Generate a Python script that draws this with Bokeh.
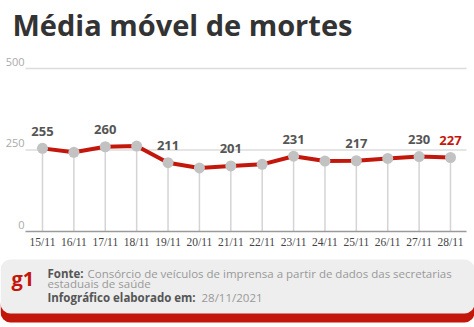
from bokeh.plotting import figure
from bokeh.models import Range1d, Label, BoxAnnotation, ColumnDataSource
from bokeh.core.properties import value
from bokeh.embed import file_html
from bokeh.resources import INLINE

# ---- data ----
dates = ["15/11", "16/11", "17/11", "18/11", "19/11", "20/11", "21/11",
         "22/11", "23/11", "24/11", "25/11", "26/11", "27/11", "28/11"]
deaths = [255, 243, 260, 262, 211, 195, 201, 206, 231, 216, 217, 224, 230, 227]
labeled_idx = [0, 2, 4, 6, 8, 10, 12]
last_idx = 13
y_ticks = [0, 250, 500]
y_tick_labels = ["0", "250", "500"]

title_text = "Média móvel de mortes"
source_bold = "Fonte:"
source_rest = "Consórcio de veículos de imprensa a partir de dados das secretarias"
source_line2 = "estaduais de saúde"
made_bold = "Infográfico elaborado em:"
made_date = "28/11/2021"

# ---- layout ----
W, H = 474, 327
X0_PX, X13_PX = 42.0, 450.0          # pixel x of first / last point
Y0_PX, Y500_PX = 231.0, 68.0         # pixel y of 0 and 500
sx = (X13_PX - X0_PX) / 13.0
sy = (Y0_PX - Y500_PX) / 500.0
x_start = -X0_PX / sx
x_end = 13 + (W - X13_PX) / sx
y_end = 500 + Y500_PX / sy
y_start = -(H - Y0_PX) / sy

def px_x(px):
    return x_start + px / sx

def px_y(py):
    return y_end - py / sy

RED = "#c4170c"
FONT = "Open Sans"

p = figure(width=W, height=H, min_border=0, min_border_left=0, min_border_right=0,
           min_border_top=0, min_border_bottom=0,
           x_axis_type=None, y_axis_type=None, toolbar_location=None,
           output_backend="svg", outline_line_color=None,
           x_range=Range1d(x_start, x_end), y_range=Range1d(y_start, y_end))
p.background_fill_color = "white"
p.border_fill_color = "white"

xs = list(range(len(dates)))

# horizontal grid lines
p.segment(x0=[px_x(25)] * 2, x1=[px_x(466)] * 2, y0=y_ticks[1:], y1=y_ticks[1:],
          line_color="#dcdcdc", line_width=1.5)
# vertical drop lines
p.segment(x0=xs, x1=xs, y0=[0] * len(xs), y1=deaths, line_color="#d4d4d4", line_width=1.5)
# baseline
p.segment(x0=[px_x(25)], x1=[px_x(466)], y0=[0], y1=[0], line_color="#9a9a9a", line_width=1.5)

# y tick labels
p.text(x=[px_x(24)] * 3, y=y_ticks, text=y_tick_labels, text_align="right",
       text_baseline="middle", y_offset=-7, text_font=value(FONT),
       text_font_size="11px", text_color="#aaaaaa")

# x tick labels
p.text(x=xs, y=[0] * len(xs), text=dates, text_align="center", text_baseline="middle",
       y_offset=10, text_font=value("Liberation Sans Narrow"), text_font_size="11.5px",
       text_color="#444444")

# line & markers
p.line(xs, deaths, line_color=RED, line_width=4)
p.scatter(xs, deaths, size=11, fill_color="#c2c2c2", line_color=None)

# value labels
src = ColumnDataSource(dict(x=labeled_idx, y=[deaths[i] for i in labeled_idx],
                            t=[str(deaths[i]) for i in labeled_idx]))
p.text(x="x", y="y", text="t", source=src, text_align="center", text_baseline="middle",
       y_offset=-17, text_font=value(FONT), text_font_size="13px",
       text_font_style="bold", text_color="#555555")
p.text(x=[last_idx], y=[deaths[last_idx]], text=[str(deaths[last_idx])],
       text_align="center", text_baseline="middle", y_offset=-17,
       text_font=value(FONT), text_font_size="13px", text_font_style="bold",
       text_color=RED)

# title
p.add_layout(Label(x=px_x(12), y=px_y(24), text=title_text, text_baseline="middle",
                   text_font=FONT, text_font_size="29px", text_font_style="bold",
                   text_color="#333333"))

# footer boxes
p.add_layout(BoxAnnotation(left=px_x(0), right=px_x(W), top=px_y(295), bottom=px_y(322),
                           fill_color=RED, fill_alpha=1, line_color=None,
                           border_radius=10))
p.add_layout(BoxAnnotation(left=px_x(0), right=px_x(W), top=px_y(259), bottom=px_y(313),
                           fill_color="#eeeeee", fill_alpha=1, line_color=None,
                           border_radius=10))

# footer texts
p.add_layout(Label(x=px_x(11), y=px_y(278), text="g1", text_baseline="middle",
                   text_font=FONT, text_font_size="20px", text_font_style="bold",
                   text_color=RED))
p.add_layout(Label(x=px_x(47), y=px_y(273), text=source_bold, text_baseline="middle",
                   text_font=FONT, text_font_size="11.5px", text_font_style="bold",
                   text_color="#555555"))
p.add_layout(Label(x=px_x(47), y=px_y(273), text=source_rest, text_baseline="middle",
                   x_offset=40, text_font=FONT, text_font_size="11.5px",
                   text_color="#999999"))
p.add_layout(Label(x=px_x(47), y=px_y(283), text=source_line2, text_baseline="middle",
                   text_font=FONT, text_font_size="11.5px", text_color="#999999"))
p.add_layout(Label(x=px_x(47), y=px_y(297), text=made_bold, text_baseline="middle",
                   text_font=FONT, text_font_size="11.5px", text_font_style="bold",
                   text_color="#555555"))
p.add_layout(Label(x=px_x(47), y=px_y(297), text=made_date, text_baseline="middle",
                   x_offset=154, text_font=FONT, text_font_size="11.5px",
                   text_color="#999999"))

open("out.html", "w").write(file_html(p, INLINE))
